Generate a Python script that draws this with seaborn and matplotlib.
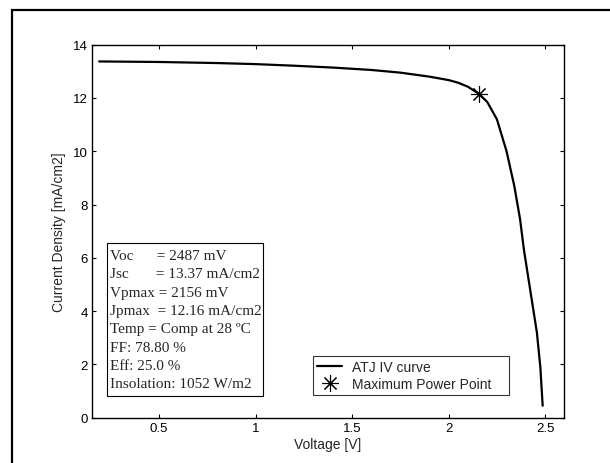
import pandas as pd
import seaborn as sns
import matplotlib
matplotlib.use('Agg')
import matplotlib.pyplot as plt
from matplotlib.patches import Rectangle

# IV curve
voltage = [0.19, 0.5, 0.8, 1.0, 1.2, 1.4, 1.6, 1.75, 1.9, 2.0, 2.05, 2.1, 2.156,
           2.2, 2.25, 2.3, 2.34, 2.37, 2.39, 2.43, 2.457, 2.475, 2.487]
current = [13.37, 13.35, 13.31, 13.27, 13.21, 13.14, 13.05, 12.95, 12.8, 12.67, 12.57, 12.42, 12.16,
           11.85, 11.2, 10.0, 8.7, 7.45, 6.3, 4.45, 3.2, 1.9, 0.45]
mpp_v = [2.156]
mpp_j = [12.16]

info_lines = ['Voc      = 2487 mV',
              'Jsc       = 13.37 mA/cm2',
              'Vpmax = 2156 mV',
              'Jpmax  = 12.16 mA/cm2',
              'Temp = Comp at 28 \u00baC',
              'FF: 78.80 %',
              'Eff: 25.0 %',
              'Insolation: 1052 W/m2']

x_ticks = [0.5, 1, 1.5, 2, 2.5]
x_labels = ['0.5', '1', '1.5', '2', '2.5']
y_ticks = [0, 2, 4, 6, 8, 10, 12, 14]

iv_df = pd.DataFrame({'V': voltage, 'J': current})
mpp_df = pd.DataFrame({'V': mpp_v, 'J': mpp_j})

sns.set_style('ticks')
plt.rcParams['font.family'] = ['Liberation Sans', 'DejaVu Sans']
plt.rcParams['font.size'] = 10

fig = plt.figure(figsize=(6.1, 4.64), dpi=100)
ax = fig.add_axes([0.1508, 0.0976, 0.773, 0.804])

sns.lineplot(data=iv_df, x='V', y='J', sort=False, estimator=None, color='black',
             linewidth=1.6, ax=ax, label='ATJ IV curve')
ax.plot(mpp_df['V'], mpp_df['J'], linestyle='none', marker=(8, 2, 0), markersize=12,
        markeredgewidth=0.8, color='black', label='Maximum Power Point')

ax.set_xlim(0.153, 2.595)
ax.set_ylim(0, 14)
ax.set_xticks(x_ticks, labels=x_labels)
ax.set_yticks(y_ticks)
ax.tick_params(direction='in', top=True, right=True, length=3, width=0.8,
               labelsize=9.5, colors='black', pad=3)
for s in ax.spines.values():
    s.set_linewidth(1.0)
    s.set_color('black')
    s.set_visible(True)

ax.set_xlabel('Voltage [V]', fontsize=10, labelpad=2)
ax.set_ylabel('Current Density [mA/cm2]', fontsize=10, labelpad=5)

leg = ax.legend(loc='lower left', bbox_to_anchor=(0.469, 0.061, 0.416, 0.108), mode='expand',
                frameon=True, fancybox=False, edgecolor='black', fontsize=10,
                handlelength=1.8, handletextpad=0.7, borderpad=0.3, labelspacing=0.2,
                borderaxespad=0)
leg.get_frame().set_linewidth(0.8)

# parameter box
ax.add_patch(Rectangle((0.031, 0.059), 0.3315, 0.409, transform=ax.transAxes,
                       fill=False, edgecolor='black', linewidth=0.8))
ax.text(0.039, 0.452, '\n'.join(info_lines), transform=ax.transAxes, va='top', ha='left',
        family=['Liberation Serif', 'DejaVu Serif'], fontsize=11, linespacing=1.53)

# outer frame
fig.patches.append(Rectangle((12 / 610, -0.2), 1.3, 1.2 - 11 / 464, transform=fig.transFigure,
                             fill=False, edgecolor='black', linewidth=1.6))

fig.savefig('out.png', dpi=100)
